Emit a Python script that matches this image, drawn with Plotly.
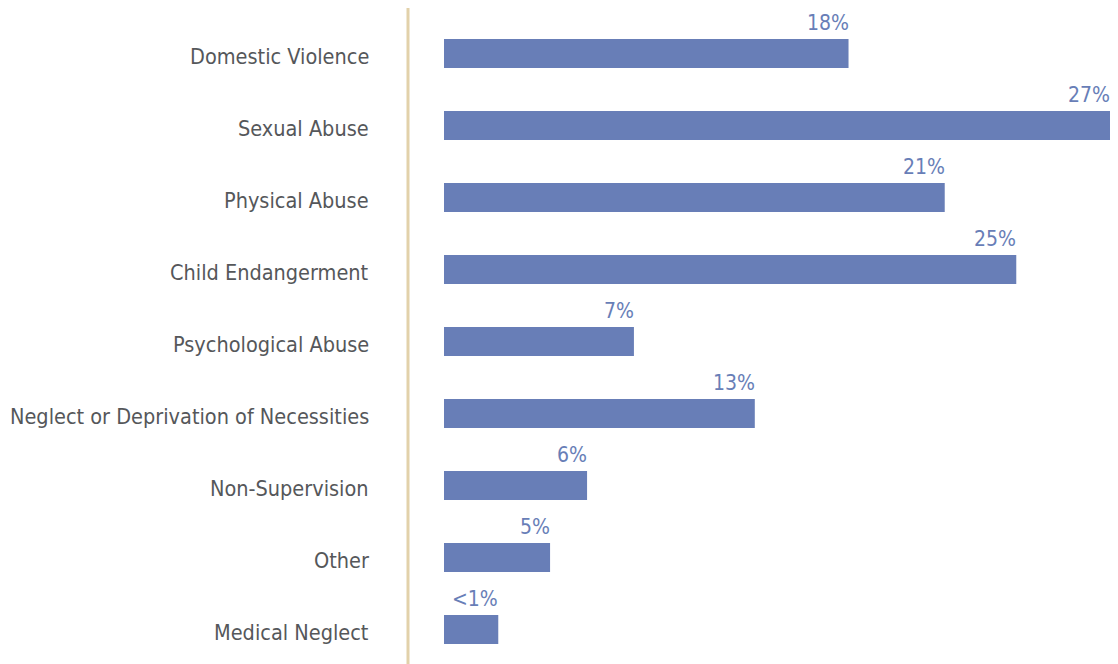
import plotly.graph_objects as go

categories = ["Domestic Violence", "Sexual Abuse", "Physical Abuse", "Child Endangerment",
              "Psychological Abuse", "Neglect or Deprivation of Necessities",
              "Non-Supervision", "Other", "Medical Neglect"]
bar_values = [16.4, 27.0, 20.3, 23.2, 7.7, 12.6, 5.8, 4.3, 2.2]
value_labels = ["18%", "27%", "21%", "25%", "7%", "13%", "6%", "5%", "<1%"]

BAR = "#687EB7"
TEXT = "#55575A"
LINE = "#E2D1AA"
FONT = "Liberation Sans Narrow, DejaVu Sans Condensed, sans-serif"

W, H = 1110, 656
ml, mr, mt, mb = 436, 0, 2, 0
pw = W - ml - mr
ph = H - mt - mb
px_per_cat = 72.0
first_center = 45.5 - mt
top = -first_center / px_per_cat
bottom = top + ph / px_per_cat

fig = go.Figure()
fig.add_trace(go.Bar(
    x=bar_values, y=categories, orientation="h",
    marker=dict(color=BAR, line=dict(width=0)),
    width=0.40, hoverinfo="skip",
))

for c, v, t in zip(categories, bar_values, value_labels):
    fig.add_annotation(x=v, y=c, text=t, showarrow=False, xanchor="right", yanchor="bottom",
                       yshift=17, xshift=2, font=dict(family=FONT, size=21, color=BAR))

for c in categories:
    fig.add_annotation(x=-73 / pw, xref="paper", y=c, yref="y", text=c, showarrow=False,
                       xanchor="right", yanchor="middle", yshift=-3,
                       font=dict(family=FONT, size=21.5, color=TEXT))

fig.add_shape(type="line", xref="paper", yref="paper",
              x0=-36 / pw, x1=-36 / pw, y0=-0.02, y1=1 + 2 / ph,
              line=dict(color=LINE, width=3))

fig.update_layout(
    width=W, height=H,
    margin=dict(l=ml, r=mr, t=mt, b=mb, pad=0, autoexpand=False),
    paper_bgcolor="white", plot_bgcolor="white",
    showlegend=False,
    xaxis=dict(range=[0, 27.0 * pw / 666], visible=False, fixedrange=True, automargin=False),
    yaxis=dict(categoryorder="array", categoryarray=categories, range=[bottom, top],
               showgrid=False, zeroline=False, showline=False, ticks="",
               showticklabels=False, automargin=False),
)

fig.write_html("out.html")
